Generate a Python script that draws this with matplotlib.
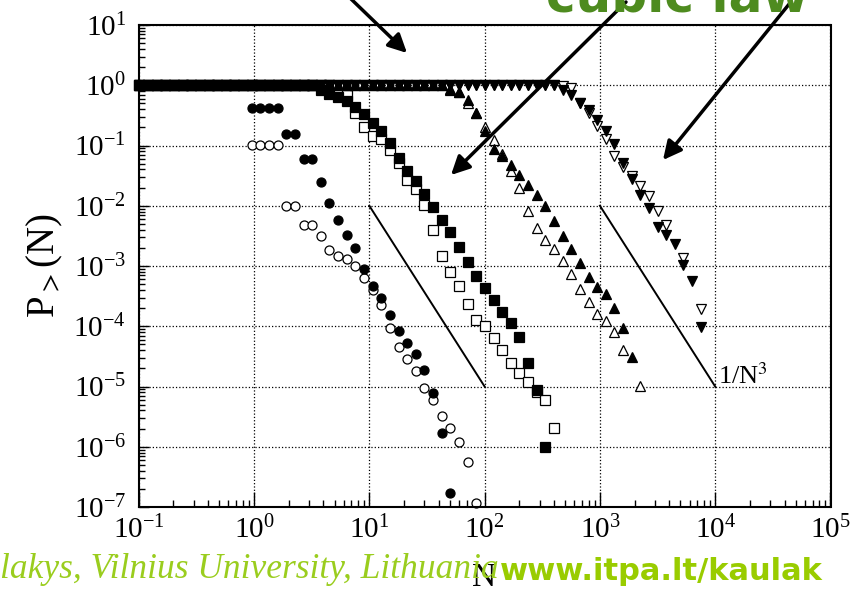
import numpy as np
import matplotlib
matplotlib.use("Agg")
import matplotlib.pyplot as plt
from matplotlib.ticker import LogLocator, NullFormatter, LogFormatterMathtext

nan = np.nan

# N positions of the points (common log grid)
n_grid = [0.1015, 0.1206, 0.1432, 0.1702, 0.2022, 0.2402, 0.2855, 0.3392, 0.4031, 0.4790, 0.5691, 0.6763, 0.8036,
          0.955, 1.135, 1.348, 1.602, 1.904, 2.262, 2.688, 3.194, 3.796, 4.510, 5.358, 6.367, 7.566, 8.990,
          10.68, 12.69, 15.08, 17.92, 21.29, 25.30, 30.06, 35.72, 42.44, 50.43, 59.93, 71.20, 84.61,
          100.5, 119.5, 141.9, 168.7, 200.4, 238.1, 282.9, 336.2, 399.5, 474.7, 564.0, 670.2, 796.4,
          946.3, 1124, 1336, 1588, 1886, 2241, 2663, 3165, 3760, 4468, 5309, 6308, 7496]

# filled circles
p_circ_f = [1.0] * 13 + [0.418, 0.418, 0.418, 0.418, 0.156, 0.156, 0.060, 0.060,
                         0.0246, 0.0111, 0.00589, 0.00331, 0.00199, 8.9e-4, 4.71e-4, 2.90e-4,
                         1.53e-4, 8.4e-5, 5.2e-5, 3.49e-5, 1.87e-5, 7.75e-6, 1.68e-6, 1.69e-7]
# open circles
p_circ_o = [1.0] * 13 + [0.1026, 0.1026, 0.1026, 0.1026, 0.00994, 0.00994, 0.0048, 0.0048,
                         0.00319, 0.00185, 0.00148, 0.00131, 9.9e-4, 6.25e-4, 4.04e-4, 2.25e-4,
                         9.2e-5, 4.5e-5, 2.85e-5, 1.80e-5, 9.4e-6, 6.0e-6, 3.18e-6, 2.01e-6,
                         1.22e-6, 5.6e-7, 1.15e-7]
# filled squares
p_sq_f = [1.0] * 21 + [0.84, 0.72, 0.64, 0.54, 0.44, 0.327, 0.235, 0.173, 0.109, 0.0624,
                       0.0375, 0.0256, 0.0157, 0.00946, 0.00582, 0.00363, 0.00209, 0.00118,
                       6.8e-4, 4.3e-4, 2.72e-4, 1.74e-4, 1.12e-4, 6.7e-5, 2.47e-5, 8.8e-6, 9.9e-7]
# open squares
p_sq_o = [1.0] * 23 + [0.9, 0.687, 0.345, 0.202, 0.1465, 0.1276, 0.0848, 0.0509, 0.0269, 0.0190,
                       0.01044, 0.00397, 0.00145, 8.0e-4, 4.71e-4, 2.31e-4, 1.28e-4, 9.96e-5,
                       6.4e-5, 3.97e-5, 2.47e-5, 1.67e-5, 1.18e-5, 7.96e-6, 5.9e-6, 2.01e-6]
# filled up triangles
p_up_f = [1.0] * 36 + [0.85, 0.77, 0.574, 0.352, 0.172, 0.088, 0.068, 0.0481, 0.0328, 0.0224,
                       0.0153, 0.0098, 0.0056, 0.00315, 0.00195, 0.00114, 6.5e-4, 4.53e-4,
                       3.43e-4, 2.0e-4, 9.2e-5, 3.04e-5]
# open up triangles
p_up_o = [1.0] * 36 + [0.88, 0.78, 0.51, 0.35, 0.2, 0.122, 0.0727, 0.0384, 0.0194, 0.0083,
                       0.0042, 0.0027, 0.00188, 0.00119, 7.3e-4, 4.1e-4, 2.55e-4, 1.59e-4,
                       1.22e-4, 8.0e-5, 4.06e-5, nan, 1.03e-5]
# filled down triangles
p_dn_f = [1.0] * 49 + [0.84, 0.676, 0.506, 0.381, 0.267, 0.173, 0.1066, 0.0509, 0.0279, 0.0153,
                       0.0092, 0.0045, 0.00324, 0.00232, 0.00105, 5.7e-4, 9.6e-5]
# open down triangles
p_dn_o = [1.0] * 49 + [0.98, 0.89, 0.5, 0.34, 0.214, 0.129, 0.068, 0.0447, 0.0317, 0.0216,
                       0.0146, 0.0083, 0.00475, nan, 0.00135, nan, 1.91e-4]

# 1/N^3 guide lines
guide1_n = [10, 100]
guide2_n = [1000, 10000]
guide_p = [1e-2, 1e-5]

plt.rcParams['font.family'] = ['Liberation Serif', 'DejaVu Serif']
plt.rcParams['mathtext.fontset'] = 'stix'

fig = plt.figure(figsize=(8.67, 5.94), dpi=100)
ax = fig.add_axes([138.7 / 867, 87 / 594, (830.5 - 138.7) / 867, 482 / 594])

ms = 6.5
open_kw = dict(ls='none', mfc='white', mec='black', mew=0.9, ms=ms, clip_on=False)
fill_kw = dict(ls='none', mfc='black', mec='black', mew=0.9, ms=ms, clip_on=False)

ax.plot(n_grid[:len(p_circ_o)], p_circ_o, 'o', **open_kw)
ax.plot(n_grid[:len(p_sq_o)], p_sq_o, 's', **open_kw)
ax.plot(n_grid[:len(p_up_o)], p_up_o, '^', **open_kw)
ax.plot(n_grid[:len(p_dn_o)], p_dn_o, 'v', **open_kw)
ax.plot(n_grid[:len(p_circ_f)], p_circ_f, 'o', **fill_kw)
ax.plot(n_grid[:len(p_sq_f)], p_sq_f, 's', **fill_kw)
ax.plot(n_grid[:len(p_up_f)], p_up_f, '^', **fill_kw)
ax.plot(n_grid[:len(p_dn_f)], p_dn_f, 'v', **fill_kw)

ax.plot(guide1_n, guide_p, '-', color='black', lw=1.4)
ax.plot(guide2_n, guide_p, '-', color='black', lw=1.4)
ax.text(1.06e4, 1.1e-5, r'1/N$^3$', fontsize=19, ha='left', va='baseline')

ax.set_xscale('log')
ax.set_yscale('log')
ax.set_xlim(0.1, 1e5)
ax.set_ylim(1e-7, 10)

for axis in (ax.xaxis, ax.yaxis):
    axis.set_major_locator(LogLocator(base=10, numticks=20))
    axis.set_minor_locator(LogLocator(base=10, subs=range(2, 10), numticks=100))
    axis.set_major_formatter(LogFormatterMathtext())
    axis.set_minor_formatter(NullFormatter())

ax.tick_params(which='both', direction='in', top=False, right=False, width=1.0)
ax.tick_params(axis='x', which='major', length=11, pad=6, labelsize=21)
ax.tick_params(axis='x', which='minor', length=5)
ax.tick_params(axis='y', which='major', length=7, pad=9, labelsize=21)
ax.tick_params(axis='y', which='minor', length=4)
ax.grid(True, which='major', ls=':', color='black', lw=0.9)
for s in ax.spines.values():
    s.set_linewidth(1.5)

ax.set_ylabel(r'P$_{>}$(N)', fontsize=28, labelpad=6)
fig.text(484 / 867, 1 - 578 / 594, 'N', fontsize=24, ha='center', va='center')

# slide overlays
fig.text(546 / 867, 1 - 12 / 594, 'cubic law', fontsize=36, fontweight='bold',
         family='DejaVu Sans', color='#4e8b1f', ha='left', va='baseline')
fig.text(0.0, 1 - 578 / 594, 'lakys, Vilnius University, Lithuania', fontsize=25.5,
         style='italic', color='#9acd1e', ha='left', va='baseline')
fig.text(500 / 867, 1 - 580 / 594, 'www.itpa.lt/kaulak', fontsize=22, fontweight='bold',
         family='DejaVu Sans', color='#99cc00', ha='left', va='baseline')

arrows = [((349, 597), (407, 541)), ((626, 592), (451, 419)), ((790, 591), (663, 434))]
for start, tip in arrows:
    ax.annotate('', xy=tip, xycoords='figure pixels', xytext=start, textcoords='figure pixels',
                annotation_clip=False,
                arrowprops=dict(arrowstyle='-|>', color='black', lw=2.5, mutation_scale=28,
                                shrinkA=0, shrinkB=0))

fig.savefig('out.png', dpi=100)
